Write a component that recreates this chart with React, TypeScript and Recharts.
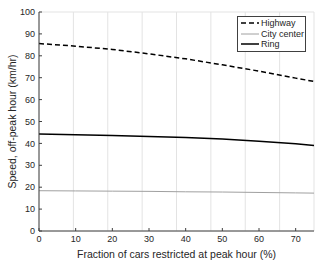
import { CartesianGrid, Line, LineChart, XAxis, YAxis } from 'recharts';

const fractions = [0, 10, 20, 30, 40, 50, 60, 70, 75];
const highway = [85.6, 84.4, 82.9, 80.9, 78.6, 75.9, 73.0, 69.8, 68.3];
const cityCenter = [18.4, 18.3, 18.2, 18.1, 17.9, 17.8, 17.6, 17.4, 17.3];
const ring = [44.3, 44.0, 43.6, 43.2, 42.7, 42.0, 41.0, 39.8, 39.0];

const xTicks = [0, 10, 20, 30, 40, 50, 60, 70];
const yTicks = [0, 10, 20, 30, 40, 50, 60, 70, 80, 90, 100];

const data = fractions.map((f, i) => ({
  f,
  highway: highway[i],
  city: cityCenter[i],
  ring: ring[i],
}));

const font = '"Liberation Sans", Arial, sans-serif';
const axisColor = '#404040';
const textColor = '#262626';

const legendItems = [
  { name: 'Highway', color: '#000', width: 1.5, dash: '5 3' },
  { name: 'City center', color: '#a0a0a0', width: 1, dash: undefined },
  { name: 'Ring', color: '#000', width: 1.5, dash: undefined },
];

// matlab-style boxed legend, sits inside the plot's top-right corner
function BoxLegend() {
  return (
    <div
      style={{
        position: 'absolute',
        left: 237,
        top: 16,
        width: 66,
        border: '1px solid #404040',
        background: '#fff',
        padding: '1px 0 1px 1px',
        fontSize: 9,
        lineHeight: '10.5px',
        color: textColor,
        whiteSpace: 'nowrap',
      }}
    >
      {legendItems.map((it) => (
        <div key={it.name} style={{ display: 'flex', alignItems: 'center' }}>
          <svg width={20} height={10}>
            <line x1={2} y1={5} x2={20} y2={5} stroke={it.color} strokeWidth={it.width} strokeDasharray={it.dash} />
          </svg>
          <span style={{ marginLeft: 2 }}>{it.name}</span>
        </div>
      ))}
    </div>
  );
}

export default function App() {
  const tick = { fontSize: 9, fill: textColor };
  return (
    <div style={{ position: 'absolute', left: 0, top: 0, width: 315, height: 262, background: '#fff', fontFamily: font }}>
      <LineChart width={315} height={262} data={data} margin={{ top: 12, right: 1, bottom: 0, left: 0 }}>
        <CartesianGrid stroke="#e3e3e3" strokeWidth={1} />
        <XAxis
          xAxisId="b"
          dataKey="f"
          type="number"
          domain={[0, 75]}
          ticks={xTicks}
          tickSize={-3}
          tickMargin={8}
          height={31}
          stroke={axisColor}
          tick={tick}
          label={{ value: 'Fraction of cars restricted at peak hour (%)', position: 'insideBottom', offset: 4, fontSize: 10.5, fill: textColor }}
        />
        <XAxis
          xAxisId="t"
          orientation="top"
          dataKey="f"
          type="number"
          domain={[0, 75]}
          ticks={xTicks}
          tickSize={-3}
          height={0}
          stroke={axisColor}
          tickFormatter={() => ''}
        />
        <YAxis
          yAxisId="l"
          domain={[0, 100]}
          ticks={yTicks}
          tickSize={-3}
          tickMargin={7}
          width={39}
          stroke={axisColor}
          tick={tick}
          label={{ value: 'Speed, off-peak hour (km/hr)', angle: -90, position: 'insideLeft', offset: 12, style: { textAnchor: 'middle' }, fontSize: 10.5, fill: textColor }}
        />
        <YAxis
          yAxisId="r"
          orientation="right"
          domain={[0, 100]}
          ticks={yTicks}
          tickSize={-3}
          width={0}
          stroke={axisColor}
          tickFormatter={() => ''}
        />
        <Line xAxisId="b" yAxisId="l" dataKey="highway" name="Highway" stroke="#000" strokeWidth={1.5} strokeDasharray="5 3" dot={false} isAnimationActive={false} />
        <Line xAxisId="b" yAxisId="l" dataKey="city" name="City center" stroke="#a0a0a0" strokeWidth={1} dot={false} isAnimationActive={false} />
        <Line xAxisId="b" yAxisId="l" dataKey="ring" name="Ring" stroke="#000" strokeWidth={1.5} dot={false} isAnimationActive={false} />
      </LineChart>
      <BoxLegend />
    </div>
  );
}
